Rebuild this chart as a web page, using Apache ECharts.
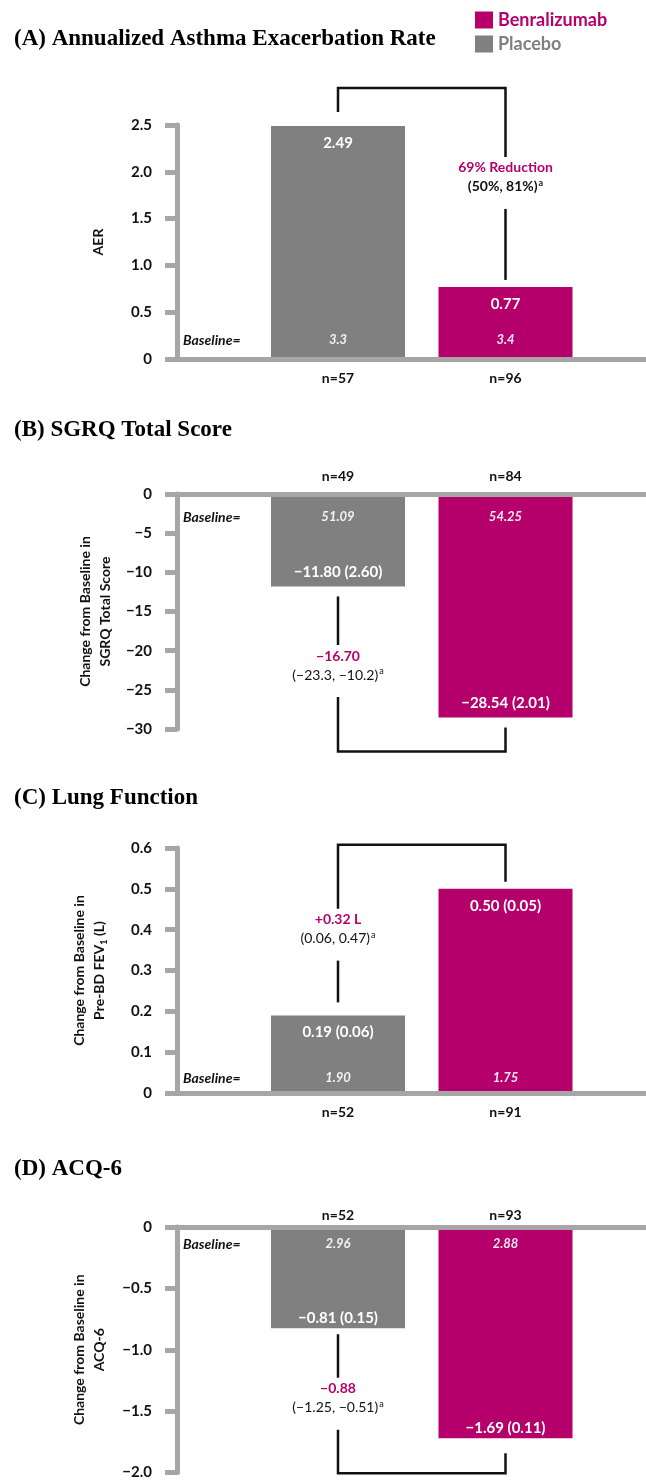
<!DOCTYPE html>
<html><head><meta charset="utf-8">
<script src="https://cdn.jsdelivr.net/npm/echarts@6/dist/echarts.min.js"></script>
<style>html,body{margin:0;padding:0;background:#fff}#c{width:646px;height:1480px}</style>
</head><body><div id="c"></div>
<script>
// ---------- data ----------
const groups = ['Placebo', 'Benralizumab'];
const titles = ['(A) Annualized Asthma Exacerbation Rate', '(B) SGRQ Total Score', '(C) Lung Function', '(D) ACQ-6'];
const axisNames = ['AER', 'Change from Baseline in\nSGRQ Total Score', 'Change from Baseline in\nPre-BD FEV{sub|1} (L)', 'Change from Baseline in\nACQ-6'];
const placeboMean = [2.49, -11.80, 0.19, -0.81];
const placeboSE = [null, 2.60, 0.06, 0.15];
const benraMean = [0.77, -28.54, 0.50, -1.69];
const benraSE = [null, 2.01, 0.05, 0.11];
const placeboN = [57, 49, 52, 52];
const benraN = [96, 84, 91, 93];
const placeboBaseline = ['3.3', '51.09', '1.90', '2.96'];
const benraBaseline = ['3.4', '54.25', '1.75', '2.88'];
const diffLabel = ['69% Reduction', '\u221216.70', '+0.32 L', '\u22120.88'];
const diffCI = ['(50%, 81%)', '(\u221223.3, \u221210.2)', '(0.06, 0.47)', '(\u22121.25, \u22120.51)'];
const yMin = [0, -30, 0, -2];
const yMax = [2.5, 0, 0.6, 0];
const yInterval = [0.5, 5, 0.1, 0.5];
const tickDecimals = [1, 0, 1, 1];

// ---------- layout / style ----------
const GRAY = '#808080', MAG = '#b5006b', AX = '#a6a6a6', INK = '#111';
const SANS = 'Lato, "Open Sans", sans-serif';
const SERIF = '"Liberation Serif", "Times New Roman", serif';
const L = [
  {top:125, height:234, titleY:39, nameGap:69, valPos:'insideTop', valDist:10, basePos:'insideBottom', baseOff:19, nMargin:11, nPos:'bottom',
   br:{dir:-1, level:38, longGap:14, shortGap:7, gapShift:-1, ciWeight:'bold'}},
  {top:494, height:235, titleY:430, nameGap:59, valPos:'insideBottom', valDist:7, basePos:'insideTop', baseOff:23, nMargin:10, nPos:'top',
   br:{dir:1, level:34, longGap:10, shortGap:10, gapShift:-3, ciWeight:'normal'}},
  {top:848, height:245, titleY:798, nameGap:68, valPos:'insideTop', valDist:10, basePos:'insideBottom', baseOff:15, nMargin:11, nPos:'bottom',
   br:{dir:-1, level:44, longGap:7, shortGap:13, gapShift:11, ciWeight:'normal'}},
  {top:1227, height:250, titleY:1169, nameGap:68, valPos:'insideBottom', valDist:3.5, basePos:'insideTop', baseOff:17, nMargin:4, nPos:'top',
   br:{dir:1, level:35, longGap:15, shortGap:6, gapShift:0, ciWeight:'normal'}}
];
const BAR_LEFT = 254.25, BAR_RIGHT = 56.75, AXIS_LEFT = 177;

const minus = s => String(s).replace(/-/g, '\u2212');
const valText = (m, se) => minus(m.toFixed(2)) + (se == null ? '' : ' (' + se.toFixed(2) + ')');

const chart = echarts.init(document.getElementById('c'), null, {renderer: 'canvas'});
const grid = [], xAxis = [], yAxis = [], series = [], title = [];

for (let i = 0; i < 4; i++) {
  const c = L[i];
  title.push({text: titles[i], left: 14, top: c.titleY - 12, padding: 0,
    textStyle: {fontFamily: SERIF, fontWeight: 'bold', fontSize: 23, color: '#000', lineHeight: 24}});
  grid.push({left: AXIS_LEFT, right: 0, top: c.top, height: c.height});
  grid.push({left: BAR_LEFT, right: BAR_RIGHT, top: c.top, height: c.height});
  const ga = 2 * i, gb = 2 * i + 1;
  xAxis.push({gridIndex: ga, type: 'category', data: [''], z: 5,
    axisLine: {show: true, onZero: true, lineStyle: {color: AX, width: 5}},
    axisTick: {show: false}, axisLabel: {show: false}, splitLine: {show: false}});
  xAxis.push({gridIndex: gb, type: 'category', data: groups, position: c.nPos,
    axisLine: {show: false, onZero: false}, axisTick: {show: false},
    axisLabel: {margin: c.nMargin, fontFamily: SANS, fontWeight: 'bold', fontSize: 14, color: INK, lineHeight: 16,
      formatter: (v, idx) => 'n=' + (idx === 0 ? placeboN[i] : benraN[i])}});
  const dec = tickDecimals[i];
  yAxis.push({gridIndex: ga, type: 'value', min: yMin[i], max: yMax[i], interval: yInterval[i],
    axisLine: {show: true, lineStyle: {color: AX, width: 5}},
    axisTick: {show: true, length: 12, lineStyle: {color: AX, width: 5}},
    splitLine: {show: false},
    axisLabel: {margin: 25, fontFamily: SANS, fontWeight: 'bold', fontSize: 15, color: INK,
      formatter: v => v === 0 ? '0' : minus(v.toFixed(dec))},
    name: axisNames[i], nameLocation: 'middle', nameRotate: 90, nameGap: c.nameGap,
    nameTextStyle: {fontFamily: SANS, fontWeight: 'bold', fontSize: 14, color: INK, lineHeight: 20,
      rich: {sub: {fontFamily: SANS, fontWeight: 'bold', fontSize: 9, color: INK, verticalAlign: 'bottom', lineHeight: 14}}}});
  yAxis.push({gridIndex: gb, type: 'value', min: yMin[i], max: yMax[i], interval: yInterval[i], show: false});

  const valLabel = (txt) => ({show: true, position: c.valPos, distance: c.valDist, formatter: () => txt,
    fontFamily: SANS, fontWeight: 'bold', fontSize: 15, lineHeight: 14, color: '#fff'});
  series.push({type: 'bar', name: groups[0], xAxisIndex: gb, yAxisIndex: gb, barWidth: 134, barGap: '-100%',
    data: [placeboMean[i], '-'], itemStyle: {color: GRAY}, label: valLabel(valText(placeboMean[i], placeboSE[i])), silent: true});
  series.push({type: 'bar', name: groups[1], xAxisIndex: gb, yAxisIndex: gb, barWidth: 134, barGap: '-100%',
    data: ['-', benraMean[i]], itemStyle: {color: MAG}, label: valLabel(valText(benraMean[i], benraSE[i])), silent: true});
  series.push({type: 'bar', name: 'Baseline', xAxisIndex: gb, yAxisIndex: gb, barWidth: 134, barGap: '-100%',
    data: [placeboMean[i], benraMean[i]], itemStyle: {color: 'rgba(0,0,0,0)'}, silent: true, z: 3,
    label: {show: true, position: c.basePos, distance: c.baseOff - 7,
      formatter: p => p.dataIndex === 0 ? placeboBaseline[i] : benraBaseline[i],
      fontFamily: SANS, fontWeight: 'bold', fontStyle: 'italic', fontSize: 13, lineHeight: 14, color: 'rgba(255,255,255,0.9)'}});
}

const option = {
  animation: false,
  backgroundColor: '#fff',
  title, grid, xAxis, yAxis, series,
  legend: {left: 475, top: 11, orient: 'vertical', itemWidth: 18, itemHeight: 17, itemGap: 6, icon: 'rect',
    selectedMode: false, padding: 0,
    data: [
      {name: 'Benralizumab', textStyle: {color: MAG}},
      {name: 'Placebo', textStyle: {color: GRAY}}
    ],
    textStyle: {fontFamily: SANS, fontWeight: 'bold', fontSize: 18, lineHeight: 18}}
};
chart.setOption(option);

// ---------- annotations from the axes' own scales ----------
const graphic = [];
for (let i = 0; i < 4; i++) {
  const c = L[i], b = c.br, gb = 2 * i + 1;
  const p0 = chart.convertToPixel({gridIndex: gb}, [0, 0]);
  const pP = chart.convertToPixel({gridIndex: gb}, [0, placeboMean[i]]);
  const pB = chart.convertToPixel({gridIndex: gb}, [1, benraMean[i]]);
  const y0 = p0[1];
  const placeboLonger = Math.abs(placeboMean[i]) > Math.abs(benraMean[i]);
  const longP = placeboLonger ? pP : pB, shortP = placeboLonger ? pB : pP;
  const level = longP[1] + b.dir * b.level;
  const longEnd = longP[1] + b.dir * b.longGap;
  const shortEnd = shortP[1] + b.dir * b.shortGap;
  const mid = (level + shortEnd) / 2 + b.gapShift;
  const gapHalf = 26;
  const gA = mid - gapHalf, gB = mid + gapHalf;
  const lineStyle = {stroke: INK, lineWidth: 2.5, fill: null};
  graphic.push({type: 'polyline', silent: true, z: 10,
    shape: {points: [[longP[0], longEnd], [longP[0], level], [shortP[0], level], [shortP[0], b.dir < 0 ? gA : gB]]}, style: lineStyle});
  graphic.push({type: 'polyline', silent: true, z: 10,
    shape: {points: [[shortP[0], b.dir < 0 ? gB : gA], [shortP[0], shortEnd]]}, style: lineStyle});
  graphic.push({type: 'text', silent: true, z: 10, x: shortP[0], y: mid - 5.5,
    style: {text: '{m|' + diffLabel[i] + '}\n{k|' + diffCI[i] + '}{s|a}',
      align: 'center', verticalAlign: 'middle', textAlign: 'center', textVerticalAlign: 'middle',
      rich: {
        m: {fontFamily: SANS, fontWeight: 'bold', fontSize: 14, fill: MAG, color: MAG, lineHeight: 19},
        k: {fontFamily: SANS, fontWeight: b.ciWeight, fontSize: 14, fill: INK, color: INK, lineHeight: 19},
        s: {fontFamily: SANS, fontWeight: b.ciWeight, fontSize: 9, fill: INK, color: INK, lineHeight: 19, verticalAlign: 'top', padding: [1, 0, 0, 1]}
      }}});
  const baseY = y0 + (c.basePos === 'insideTop' ? c.baseOff : -c.baseOff);
  graphic.push({type: 'text', silent: true, z: 10, x: 183, y: baseY,
    style: {text: 'Baseline=', font: 'italic bold 14px ' + SANS, fill: INK,
      align: 'left', verticalAlign: 'middle', textAlign: 'left', textVerticalAlign: 'middle'}});
}
chart.setOption({graphic});
</script>
</body></html>
